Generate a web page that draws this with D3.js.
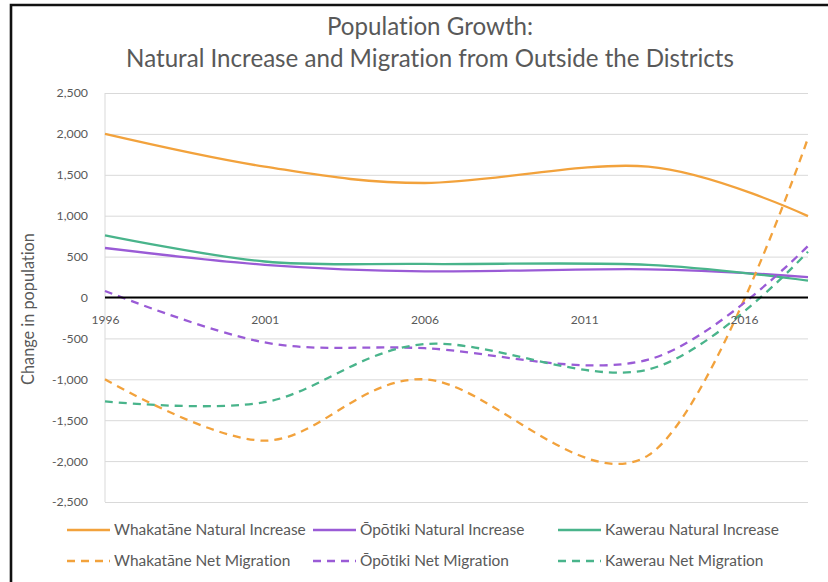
<!DOCTYPE html>
<html>
<head>
<meta charset="utf-8">
<script src="https://cdn.jsdelivr.net/npm/d3@7"></script>
<style>
  body { margin: 0; background: #fff; }
  svg { display: block; }
  text { font-family: Lato, "Open Sans", sans-serif; fill: #595959; font-variant-ligatures: none; font-feature-settings: "liga" 0, "clig" 0; }
</style>
</head>
<body>
<svg id="chart" width="828" height="582"></svg>
<script>
// Census years and the change recorded for each district
const years = [1996, 2001, 2006, 2013, 2018];
const whakataneNatural   = [2000, 1600, 1400, 1600, 995];
const opotikiNatural     = [605, 400, 320, 345, 250];
const kawerauNatural     = [760, 440, 410, 400, 205];
const whakataneMigration = [-1000, -1750, -1000, -1930, 1950];
const opotikiMigration   = [80, -550, -620, -760, 630];
const kawerauMigration   = [-1270, -1280, -570, -880, 560];

const seriesNames = [
  "Whakatāne Natural Increase", "Ōpōtiki Natural Increase", "Kawerau Natural Increase",
  "Whakatāne Net Migration", "Ōpōtiki Net Migration", "Kawerau Net Migration"
];
const yTicks = [-2500, -2000, -1500, -1000, -500, 0, 500, 1000, 1500, 2000, 2500];
const xTicks = [1996, 2001, 2006, 2011, 2016];
const titleLines = ["Population Growth:", "Natural Increase and Migration from Outside the Districts"];
const yTitle = "Change in population";

const orange = "#f2a23c", purple = "#9a5bd6", green = "#49b48b";
const series = [
  { name: seriesNames[0], values: whakataneNatural,   color: orange, dashed: false },
  { name: seriesNames[1], values: opotikiNatural,     color: purple, dashed: false },
  { name: seriesNames[2], values: kawerauNatural,     color: green,  dashed: false },
  { name: seriesNames[3], values: whakataneMigration, color: orange, dashed: true },
  { name: seriesNames[4], values: opotikiMigration,   color: purple, dashed: true },
  { name: seriesNames[5], values: kawerauMigration,   color: green,  dashed: true }
];

const svg = d3.select("#chart");
const plotLeft = 105, plotRight = 808, plotTop = 93, plotBottom = 502;

const x = d3.scaleLinear().domain([1996, 2018]).range([plotLeft, plotRight]);
const y = d3.scaleLinear().domain([-2500, 2500]).range([plotBottom, plotTop]);
const fmt = d3.formatLocale({ decimal: ".", thousands: ",", grouping: [3], currency: ["$", ""], minus: "-" }).format(",");

// Scale a group of labels so that one sample label takes the given width
function fitFont(sel, sampleNode, width, base) {
  const size = base * width / sampleNode.getComputedTextLength();
  sel.attr("font-size", size);
}

// Frame of the chart area
svg.append("path")
  .attr("d", `M11,582 V5 H828`)
  .attr("fill", "none").attr("stroke", "#111").attr("stroke-width", 2.6);

// Title
const title = svg.append("g");
titleLines.forEach((t, i) => {
  title.append("text")
    .attr("x", 430).attr("y", 35 + i * 32)
    .attr("text-anchor", "middle")
    .attr("font-size", 21)
    .text(t);
});
fitFont(title.selectAll("text"), title.selectAll("text").nodes()[1], 608, 21);

// Horizontal gridlines
svg.append("g")
  .attr("transform", `translate(${plotLeft},0)`)
  .call(d3.axisLeft(y).tickValues(yTicks).tickSize(-(plotRight - plotLeft)).tickFormat(""))
  .call(g => g.select(".domain").remove())
  .call(g => g.selectAll("line").attr("stroke", "#d9d9d9").attr("stroke-width", 1));

// Vertical axis line
svg.append("line")
  .attr("x1", plotLeft).attr("x2", plotLeft).attr("y1", plotTop).attr("y2", plotBottom)
  .attr("stroke", "#d9d9d9").attr("stroke-width", 1);

// Y tick labels
const yLabels = svg.append("g")
  .attr("transform", `translate(${plotLeft},0)`)
  .call(d3.axisLeft(y).tickValues(yTicks).tickSize(0).tickPadding(17).tickFormat(fmt))
  .call(g => g.select(".domain").remove())
  .selectAll("text").attr("fill", "#595959").style("font-family", "Lato, sans-serif").attr("font-size", 13);
fitFont(yLabels, yLabels.nodes()[0], 36, 13);

// Y axis title
const yt = svg.append("text")
  .attr("transform", `translate(34,309) rotate(-90)`)
  .attr("text-anchor", "middle")
  .attr("font-size", 15)
  .text(yTitle);
fitFont(yt, yt.node(), 152, 15);

// Series lines, smoothed through the census points
const line = d3.line()
  .x((d, i) => x(years[i]))
  .y(d => y(d))
  .curve(d3.curveCardinal.tension(0));

svg.append("g").selectAll("path")
  .data(series)
  .join("path")
  .attr("d", s => line(s.values))
  .attr("fill", "none")
  .attr("stroke", s => s.color)
  .attr("stroke-width", 2.3)
  .attr("stroke-dasharray", s => s.dashed ? "8,6" : null)
  .attr("stroke-linecap", "butt");

// Zero axis with year labels
const xLabels = svg.append("g")
  .attr("transform", `translate(0,${y(0)})`)
  .call(d3.axisBottom(x).tickValues(xTicks).tickSize(0).tickPadding(18).tickFormat(d3.format("d")))
  .call(g => g.select(".domain").attr("stroke", "#000").attr("stroke-width", 2.2)
    .attr("d", `M${plotLeft},0H${plotRight}`))
  .selectAll("text").attr("fill", "#595959").style("font-family", "Lato, sans-serif").attr("font-size", 13);
fitFont(xLabels, xLabels.nodes()[0], 28, 13);

// Legend
const legendCols = [67, 313, 558];
const legendRows = [530, 561];
const legend = svg.append("g").selectAll("g")
  .data(series)
  .join("g")
  .attr("transform", (s, i) => `translate(${legendCols[i % 3]},${legendRows[Math.floor(i / 3)]})`);
legend.append("line")
  .attr("x1", 0).attr("x2", 43).attr("y1", 0).attr("y2", 0)
  .attr("stroke", s => s.color).attr("stroke-width", 2.3)
  .attr("stroke-dasharray", s => s.dashed ? "8,6" : null);
const legendText = legend.append("text")
  .attr("x", 47).attr("y", 0).attr("dy", "0.35em")
  .attr("font-size", 14)
  .text(s => s.name);
fitFont(legendText, legendText.nodes()[0], 192, 14);
</script>
</body>
</html>
